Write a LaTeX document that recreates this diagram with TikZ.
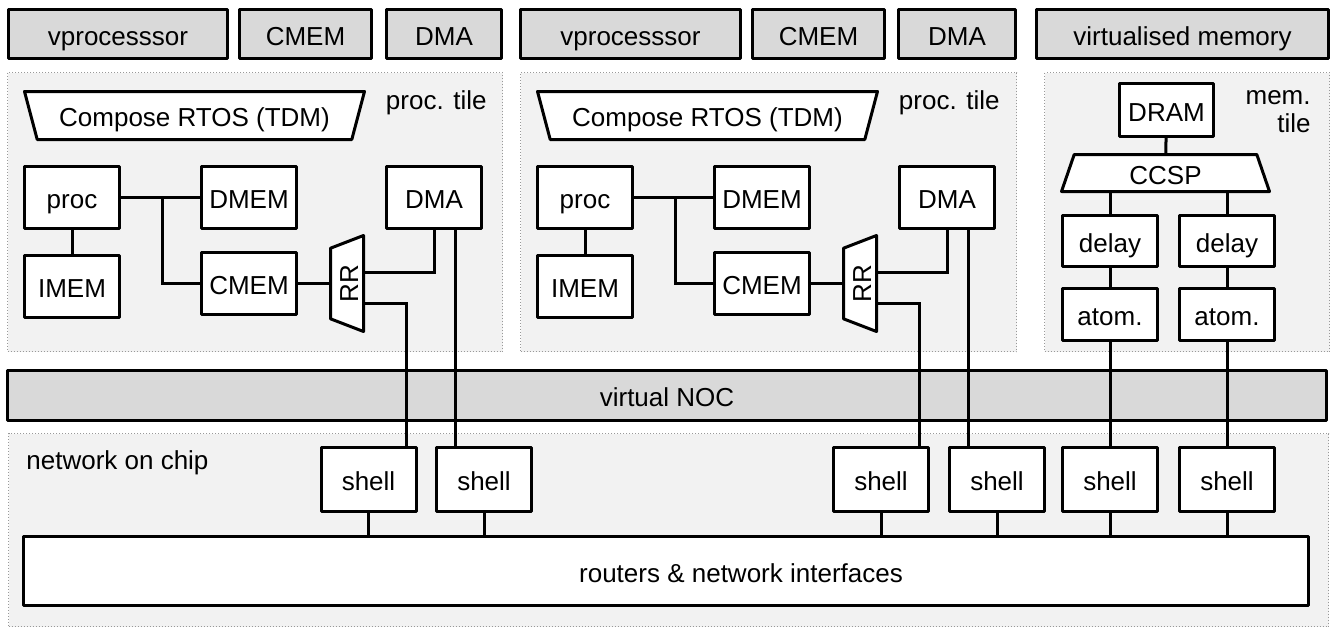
\documentclass[tikz,border=0pt]{standalone}
\usepackage{fontspec}
\setmainfont{Liberation Sans}
\usetikzlibrary{positioning, calc}
\usetikzlibrary{shapes.geometric}
\usepackage{xcolor}
\definecolor{vgray}{RGB}{217,217,217}
\definecolor{tilegray}{RGB}{242,242,242}

\begin{document}
\begin{tikzpicture}[x=0.5pt, y=-0.5pt, font=\fontsize{13}{14}\selectfont,
  vnode/.style={fill=vgray, draw, line width=1.5pt, line join=round, minimum height=24.5pt, inner sep=0pt, text height=11pt, text depth=0pt},
  mynode/.style={fill=white, draw, line width=1.5pt, line join=round, minimum width=47.5pt, minimum height=31pt, inner sep=0pt, text height=11pt, text depth=0pt},
  tilenode/.style={fill=tilegray, draw=gray!80, densely dotted, line width=0.5pt, anchor=north west, inner sep=0pt},
  trap/.style={trapezium, trapezium angle=60, trapezium stretches body, fill=white, draw, line width=1.5pt, line join=round, inner sep=0pt, text height=11pt, text depth=0pt},
  link/.style={line width=1.5pt},]

    \useasboundingbox (0,0) rectangle (1335,632);

    % virtualised resources
    \node[vnode, minimum width=109.5pt](vproc1) at (118,34) {vprocesssor};
    \node[vnode, minimum width=66pt](vcmem1) at (305.5,34) {CMEM};
    \node[vnode, minimum width=57.5pt](vdma1) at (444,34) {DMA};
    \node[vnode, minimum width=110pt](vproc2) at (630.5,34) {vprocesssor};
    \node[vnode, minimum width=66pt](vcmem2) at (818.5,34) {CMEM};
    \node[vnode, minimum width=58.5pt](vdma2) at (957,34) {DMA};
    \node[vnode, minimum width=146pt](vmem) at (1182.5,34) {virtualised memory};

    % tiles
    \node[tilenode, minimum width=247.5pt, minimum height=139.5pt](ptile1) at (7,72) {};
    \node[tilenode, minimum width=248pt, minimum height=139.5pt](ptile2) at (520,72) {};
    \node[tilenode, minimum width=142.5pt, minimum height=139.5pt](mtile) at (1044,72) {};

    \node[anchor=east, inner sep=0pt](plabel1) at (487,103) {proc. tile};
    \node[anchor=east, inner sep=0pt](plabel2) at (1000,103) {proc. tile};
    \node[anchor=east, align=right, inner sep=0pt](mlabel) at (1311,112) {mem.\\tile};

    % first processor tile
    \node[trap, shape border rotate=180, minimum width=170pt, minimum height=24pt](rtos1) at (194.5,115.5) {Compose RTOS (TDM)};
    \node[mynode](proc1) at (72,197.5) {proc};
    \node[mynode, below=12pt of proc1](imem1) {IMEM};
    \node[mynode, right=39.5pt of proc1](dmem1) {DMEM};
    \node[mynode, below=10.5pt of dmem1](cmem1) {CMEM};
    \node[mynode](dma1) at (434,197.5) {DMA};
    \node[trap, rotate=90, minimum width=48pt, minimum height=16.5pt](rr1) at (347,283.5) {RR};

    % second processor tile
    \node[trap, shape border rotate=180, minimum width=170pt, minimum height=24pt](rtos2) at (707.5,115.5) {Compose RTOS (TDM)};
    \node[mynode](proc2) at (585,197.5) {proc};
    \node[mynode, below=12pt of proc2](imem2) {IMEM};
    \node[mynode, right=39.5pt of proc2](dmem2) {DMEM};
    \node[mynode, below=10.5pt of dmem2](cmem2) {CMEM};
    \node[mynode](dma2) at (947,197.5) {DMA};
    \node[trap, rotate=90, minimum width=48pt, minimum height=16.5pt](rr2) at (860,283.5) {RR};

    % memory tile
    \node[mynode, minimum width=47pt, minimum height=26.5pt](dram) at (1166.5,110) {DRAM};
    \node[trap, minimum width=104pt, minimum height=18.5pt](ccsp) at (1165.5,173) {CCSP};
    \node[mynode, minimum height=25.5pt](delay1) at (1110,241) {delay};
    \node[mynode, minimum height=25.5pt](delay2) at (1227,241) {delay};
    \node[mynode, minimum height=26pt](atom1) at (1110,314.5) {atom.};
    \node[mynode, minimum height=26pt](atom2) at (1227,314.5) {atom.};

    % network
    \node[vnode, minimum width=659.5pt, minimum height=25pt](vnoc) at (667,395.5) {virtual NOC};
    \node[tilenode, minimum width=660pt, minimum height=96.5pt](noc) at (8,433) {};
    \node[anchor=west, inner sep=0pt](noclabel) at (26,463) {network on chip};

    \node[mynode, minimum height=32pt](shell1) at (368.5,479.5) {shell};
    \node[mynode, minimum height=32pt](shell2) at (484,479.5) {shell};
    \node[mynode, minimum height=32pt](shell3) at (881,479.5) {shell};
    \node[mynode, minimum height=32pt](shell4) at (997,479.5) {shell};
    \node[mynode, minimum height=32pt](shell5) at (1110,479.5) {shell};
    \node[mynode, minimum height=32pt](shell6) at (1227,479.5) {shell};

    \node[mynode, minimum width=642.5pt, minimum height=34.5pt,
      label={[xshift=37.5pt, text height=11pt, text depth=0pt]center:routers \& network interfaces}](routers) at (666,571) {};

    % links in the processor tiles
    \draw[link] (proc1) -- (dmem1);
    \draw[link] (proc1) -- (imem1);
    \coordinate (j1) at (162,197.5);
    \draw[link] (j1) |- (cmem1);
    \draw[link] (cmem1) -- (rr1);
    \draw[link] (dma1) |- (rr1.south |- 0,272);
    \draw[link] (rr1.south |- 0,303) -| ($(shell1.north)+(37.5,0)$);
    \draw[link] ($(dma1.south)+(21,0)$) -- ($(shell2.north)+(-29,0)$);

    \draw[link] (proc2) -- (dmem2);
    \draw[link] (proc2) -- (imem2);
    \coordinate (j2) at (675,197.5);
    \draw[link] (j2) |- (cmem2);
    \draw[link] (cmem2) -- (rr2);
    \draw[link] (dma2) |- (rr2.south |- 0,272);
    \draw[link] (rr2.south |- 0,303) -| ($(shell3.north)+(38,0)$);
    \draw[link] ($(dma2.south)+(21,0)$) -- ($(shell4.north)+(-29,0)$);

    % links in the memory tile
    \draw[link] (dram) -- (ccsp);
    \draw[link] (ccsp.south -| delay1) -- (delay1);
    \draw[link] (ccsp.south -| delay2) -- (delay2);
    \draw[link] (delay1) -- (atom1);
    \draw[link] (delay2) -- (atom2);
    \draw[link] (atom1) -- (shell5);
    \draw[link] (atom2) -- (shell6);

    % shells to the routers
    \draw[link] (shell1) -- (shell1 |- routers.north);
    \draw[link] (shell2) -- (shell2 |- routers.north);
    \draw[link] (shell3) -- (shell3 |- routers.north);
    \draw[link] (shell4) -- (shell4 |- routers.north);
    \draw[link] (shell5) -- (shell5 |- routers.north);
    \draw[link] (shell6) -- (shell6 |- routers.north);

\end{tikzpicture}
\end{document}
